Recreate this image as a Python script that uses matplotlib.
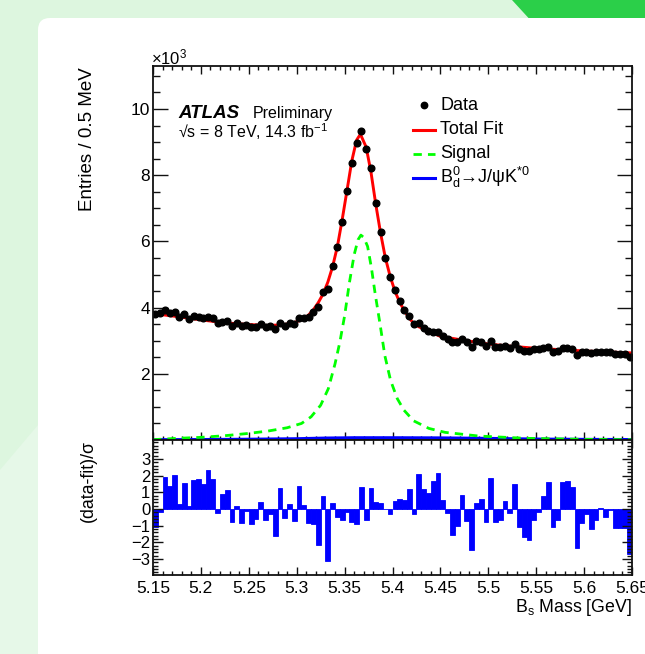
import numpy as np
import matplotlib.pyplot as plt
from matplotlib.patches import FancyBboxPatch, Polygon
from matplotlib.ticker import MultipleLocator

plt.rcParams['font.family'] = ['Liberation Sans', 'DejaVu Sans']
plt.rcParams['mathtext.fontset'] = 'custom'
plt.rcParams['mathtext.rm'] = 'Liberation Sans'
plt.rcParams['mathtext.it'] = 'Liberation Sans:italic'
plt.rcParams['mathtext.bf'] = 'Liberation Sans:bold'

# binning: 100 bins of 5 MeV between 5.15 and 5.65 GeV
mass_lo, mass_hi, n_bins = 5.15, 5.65, 100

# data, in units of 10^3 entries
data = [3.80, 3.85, 3.93, 3.85, 3.86, 3.73, 3.80, 3.66, 3.76, 3.73,
        3.69, 3.73, 3.68, 3.54, 3.58, 3.60, 3.45, 3.52, 3.45, 3.48,
        3.42, 3.42, 3.50, 3.42, 3.44, 3.35, 3.55, 3.44, 3.52, 3.50,
        3.68, 3.68, 3.73, 3.88, 4.01, 4.46, 4.56, 5.27, 5.82, 6.60,
        7.52, 8.36, 8.98, 9.35, 8.79, 8.21, 7.17, 6.29, 5.51, 4.93,
        4.53, 4.20, 3.93, 3.75, 3.49, 3.54, 3.37, 3.29, 3.27, 3.27,
        3.14, 3.05, 2.97, 2.97, 3.05, 2.95, 2.82, 2.98, 2.97, 2.85,
        2.99, 2.82, 2.82, 2.85, 2.78, 2.90, 2.74, 2.70, 2.69, 2.74,
        2.74, 2.79, 2.82, 2.67, 2.69, 2.79, 2.77, 2.75, 2.57, 2.65,
        2.67, 2.62, 2.67, 2.67, 2.65, 2.65, 2.59, 2.59, 2.59, 2.50]

# pull (data-fit)/sigma per bin
pull = [-1.1, -0.2, 1.94, 1.36, 2.04, 0.3, 1.56, 0.2, 1.76, 1.82,
        1.48, 2.34, 1.82, -0.24, 0.9, 1.14, -0.8, 0.2, -0.82, -0.1,
        -0.9, -0.6, 0.4, -0.64, -0.3, -1.6, 1.24, -0.56, 0.3, -0.74,
        1.4, 0.24, -0.86, -0.9, -2.16, 0.78, -3.14, 0.36, -0.46, -0.66,
        -0.2, -0.8, -0.9, 1.3, -0.66, 1.24, 0.44, 0.34, 0.02, -0.3,
        0.5, 0.58, 0.54, 1.2, -0.3, 2.1, 1.2, 0.96, 1.66, 2.14,
        0.54, -0.26, -1.56, -1.04, 0.84, -0.74, -2.46, 0.36, 0.6, -0.8,
        1.86, -0.76, -0.66, 0.5, -0.26, 1.5, -1.1, -1.7, -1.84, -0.64,
        -0.2, 0.8, 1.64, -1.06, -0.66, 1.6, 1.7, 1.3, -2.34, -0.84,
        -0.3, -1.2, -0.64, 0.06, -0.46, -0.04, -1.16, -1.16, -1.16, -2.7]

# total fit curve
fit_m = [5.150, 5.175, 5.200, 5.225, 5.250, 5.270, 5.285, 5.295, 5.3025,
         5.3075, 5.3125, 5.3175, 5.3225, 5.3275, 5.3325, 5.3375, 5.3425,
         5.3475, 5.3525, 5.3575, 5.3625, 5.3665, 5.3725, 5.3775, 5.3825,
         5.3875, 5.3925, 5.3975, 5.4025, 5.4075, 5.4125, 5.4175, 5.4225,
         5.4275, 5.435, 5.450, 5.475, 5.500, 5.525, 5.550, 5.575, 5.600,
         5.625, 5.650]
fit_v = [3.82, 3.73, 3.63, 3.54, 3.49, 3.46, 3.48, 3.53, 3.60,
         3.67, 3.78, 3.94, 4.15, 4.41, 4.77, 5.24, 5.85,
         6.66, 7.54, 8.43, 9.06, 9.24, 8.85, 8.10, 7.13,
         6.26, 5.51, 4.95, 4.50, 4.16, 3.90, 3.68, 3.51,
         3.42, 3.32, 3.13, 3.01, 2.90, 2.83, 2.77, 2.73, 2.69,
         2.66, 2.63]

# signal component
sig_m = [5.150, 5.175, 5.200, 5.225, 5.250, 5.270, 5.290, 5.305, 5.315,
         5.325, 5.333, 5.340, 5.345, 5.350, 5.355, 5.360, 5.364, 5.367,
         5.370, 5.374, 5.378, 5.382, 5.387, 5.392, 5.398, 5.405, 5.412,
         5.422, 5.438, 5.455, 5.490, 5.540, 5.600, 5.650]
sig_v = [0.01, 0.05, 0.08, 0.13, 0.20, 0.27, 0.37, 0.50, 0.70,
         1.05, 1.55, 2.30, 2.95, 3.75, 4.75, 5.60, 6.05, 6.19,
         6.12, 5.85, 5.20, 4.40, 3.50, 2.55, 1.80, 1.25, 0.90,
         0.58, 0.35, 0.23, 0.12, 0.05, 0.02, 0.01]

# B0d -> J/psi K*0 component
bd_m = [5.15, 5.20, 5.25, 5.30, 5.33, 5.36, 5.40, 5.45, 5.50, 5.55, 5.60, 5.65]
bd_v = [0.0, 0.005, 0.015, 0.03, 0.05, 0.06, 0.06, 0.055, 0.04, 0.02, 0.01, 0.005]

xtick_pos = [5.15, 5.2, 5.25, 5.3, 5.35, 5.4, 5.45, 5.5, 5.55, 5.6, 5.65]
xtick_lab = ['5.15', '5.2', '5.25', '5.3', '5.35', '5.4', '5.45', '5.5', '5.55', '5.6', '5.65']

bw = (mass_hi - mass_lo) / n_bins
centers = np.linspace(mass_lo + bw / 2, mass_hi - bw / 2, n_bins)

W, H = 645, 654
fig = plt.figure(figsize=(W / 100, H / 100), dpi=100)
fig.patch.set_facecolor('#ddf6df')

# page decoration
fig.add_artist(Polygon([(0, 0), (38, 0), (38, H - 425), (0, H - 470)], closed=True,
                       transform=None, facecolor='#e6f8e8', edgecolor='none', zorder=-3))
fig.add_artist(Polygon([(512, H), (534, H - 24), (W, H - 24), (W, H)], closed=True,
                       transform=None, facecolor='#2bcf49', edgecolor='none', zorder=-3))
fig.add_artist(FancyBboxPatch((38, -40), 700, H - 18 + 40,
                              boxstyle='round,pad=0,rounding_size=12',
                              transform=None, facecolor='white', edgecolor='none', zorder=-2))

ax = fig.add_axes([153 / W, 1 - 440 / H, 479 / W, 374 / H])
axr = fig.add_axes([153 / W, 1 - 575 / H, 479 / W, 135 / H])

# main panel
ax.plot(bd_m, bd_v, color='#0000ff', lw=2.6, zorder=2, clip_on=True)
ax.plot(sig_m, sig_v, color='#00ff00', lw=2.0, ls=(0, (3, 2.2)), zorder=2)
ax.plot(fit_m, fit_v, color='#ff0000', lw=2.1, zorder=3)
ax.plot(centers, data, 'o', color='black', ms=4.8, zorder=4)
ax.set_xlim(mass_lo, mass_hi)
ax.set_ylim(0, 11.3)

# ratio panel
axr.bar(centers, pull, width=bw, color='#0000ff', edgecolor='#0000ff', linewidth=0.6)
axr.set_xlim(mass_lo, mass_hi)
axr.set_ylim(-3.95, 4.13)

for a in (ax, axr):
    a.set_facecolor('white')
    for s in a.spines.values():
        s.set_linewidth(1.3)
        s.set_color('#111111')
        s.set_zorder(5)
    a.set_xticks(xtick_pos)
    a.xaxis.set_minor_locator(MultipleLocator(0.01))
    a.tick_params(which='both', direction='in', top=True, right=True, width=1.0, color='#111111')
    a.tick_params(axis='x', which='major', length=6)
    a.tick_params(axis='x', which='minor', length=3)

ax.set_yticks([2, 4, 6, 8, 10])
ax.yaxis.set_minor_locator(MultipleLocator(0.5))
ax.tick_params(axis='y', which='major', length=10.5, pad=2, labelsize=12.5)
ax.tick_params(axis='y', which='minor', length=5)
ax.tick_params(axis='x', labelbottom=False)

axr.set_yticks([-3, -2, -1, 0, 1, 2, 3])
axr.yaxis.set_minor_locator(MultipleLocator(0.2))
axr.tick_params(axis='y', which='major', length=7, pad=2, labelsize=12)
axr.tick_params(axis='y', which='minor', length=3.5)
axr.set_xticklabels(xtick_lab)
axr.tick_params(axis='x', which='major', labelsize=12.5, pad=4)

# labels
fig.text(88 / W, 1 - 67 / H, 'Entries / 0.5 MeV', rotation=90, ha='center', va='top', fontsize=13.5)
fig.text(88 / W, 1 - 440 / H, '(data-fit)/σ', rotation=90, ha='center', va='top', fontsize=12.8)
fig.text(632 / W, 1 - 608 / H, 'B$_{\\rm s}$ Mass [GeV]', ha='right', va='center', fontsize=12.8)
fig.text(151 / W, 1 - 64 / H, '×10$^{3}$', ha='left', va='baseline', fontsize=12)

fig.text(178 / W, 1 - 118 / H, 'ATLAS', fontsize=13.5, fontweight='bold', fontstyle='italic',
         ha='left', va='baseline')
fig.text(253 / W, 1 - 118 / H, 'Preliminary', fontsize=11.5, ha='left', va='baseline')
fig.text(178 / W, 1 - 138 / H, '√s = 8 TeV, 14.3 fb$^{-1}$', fontsize=11.5, ha='left', va='baseline')

# legend
leg_y = [105, 129.5, 153.5, 177.5]
leg_txt = ['Data', 'Total Fit', 'Signal', 'B$_{\\rm d}^{0}$→J/ψK$^{*0}$']
lx0, lx1, tx = 413 / W, 435 / W, 440 / W
fig.add_artist(plt.Line2D([424 / W], [1 - leg_y[0] / H], marker='o', color='black', ms=4.6, ls='none'))
fig.add_artist(plt.Line2D([lx0, lx1], [1 - leg_y[1] / H] * 2, color='#ff0000', lw=2.2))
fig.add_artist(plt.Line2D([lx0, lx1], [1 - leg_y[2] / H] * 2, color='#00ff00', lw=2.0, ls=(0, (3, 2.2))))
fig.add_artist(plt.Line2D([lx0, lx1], [1 - leg_y[3] / H] * 2, color='#0000ff', lw=2.2))
for yy, t in zip(leg_y, leg_txt):
    fig.text(tx, 1 - yy / H, t, fontsize=13, ha='left', va='center')

fig.savefig('out.png', dpi=100, facecolor=fig.get_facecolor())
